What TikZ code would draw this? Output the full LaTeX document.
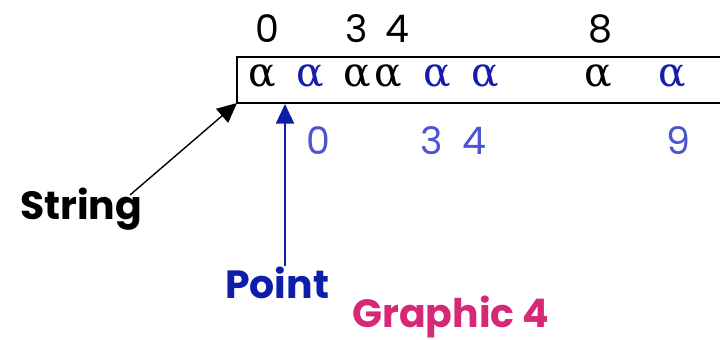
\documentclass[tikz,border=0pt]{standalone}
\usepackage{fontspec}
\setmainfont{Poppins}
\newfontfamily\alphafont{DejaVu Serif}
\usetikzlibrary{arrows.meta,positioning}
\definecolor{alphablue}{RGB}{20,30,170}
\definecolor{idxblue}{RGB}{75,85,210}
\definecolor{pointblue}{RGB}{15,30,170}
\definecolor{graphpink}{RGB}{215,40,120}

\begin{document}
\begin{tikzpicture}[x=0.025cm, y=-0.025cm,
    glyph/.style={inner sep=0pt, anchor=base, font=\alphafont\fontsize{29}{29}\selectfont},
    bglyph/.style={glyph, text=alphablue},
    topidx/.style={inner sep=0pt, anchor=base, font=\fontsize{27}{27}\selectfont},
    botidx/.style={topidx, text=idxblue},
    lbl/.style={inner sep=0pt, anchor=base west, font=\bfseries\fontsize{28}{28}\selectfont},
    callout/.style={-{Triangle[length=14pt,width=13pt]}, line width=1pt}
]
    \useasboundingbox (0,0) rectangle (720,340);
    \clip (0,0) rectangle (720,340);
    % the string cells
    \node[draw, line width=1.4pt, outer sep=0pt, anchor=north west,
          minimum width=12.6cm, minimum height=1.15cm] (strbox) at (237,57) {};
    \node[glyph] (a0) at (262,87) {α};
    \node[bglyph] (a1) at (310,87) {α};
    \node[glyph] (a2) at (357,87) {α};
    \node[glyph] (a3) at (388,87) {α};
    \node[bglyph] (a4) at (437,87) {α};
    \node[bglyph] (a5) at (485,87) {α};
    \node[glyph] (a6) at (598,87) {α};
    \node[bglyph] (a7) at (672,87) {α};
    % indices above and below
    \node[topidx] (t0) at (267,43) {0};
    \node[topidx] (t3) at (357,43) {3};
    \node[topidx] (t4) at (397,43) {4};
    \node[topidx] (t8) at (600,43) {8};
    \node[botidx] (b0) at (318,155) {0};
    \node[botidx] (b3) at (432,155) {3};
    \node[botidx] (b4) at (474,155) {4};
    \node[botidx] (b9) at (678,155) {9};
    % labels
    \node[lbl] (string) at (20,219) {String};
    \node[lbl, text=pointblue] (point) at (225,298) {Point};
    \node[lbl, text=graphpink] (graphic) at (352,327) {Graphic 4};
    \coordinate (strstart) at (130,195);
    \coordinate (ptend) at (285,104);
    \draw[callout] (strstart) -- (strbox.south west);
    \draw[callout, pointblue] (point.north -| ptend) -- (ptend);
\end{tikzpicture}
\end{document}
